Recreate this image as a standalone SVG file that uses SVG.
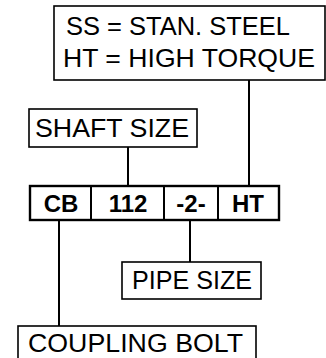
<svg xmlns="http://www.w3.org/2000/svg" width="326" height="358" viewBox="0 0 326 358">
<style>
.box{fill:#fff;stroke:#000;stroke-width:1.6}
.code{fill:#fff;stroke:#000;stroke-width:2.4}
.lbl{font-family:"Liberation Sans",Arial,sans-serif;font-size:25px;fill:#000}
.b{font-weight:bold;text-anchor:middle;font-size:24px}
.conn line{stroke:#000;stroke-width:2}
</style>
<rect width="326" height="358" fill="#fff"/>
<g class="conn" id="connectors">
<line x1="249" y1="80" x2="249" y2="186"/>
<line x1="128" y1="147" x2="128" y2="186"/>
<line x1="59" y1="220" x2="59" y2="326"/>
<line x1="190" y1="220" x2="190" y2="262"/>
</g>
<g id="legend">
<rect class="box" x="54" y="6" width="271" height="74"/>
<text class="lbl" x="66" y="35" textLength="224" lengthAdjust="spacingAndGlyphs">SS = STAN. STEEL</text>
<text class="lbl" x="63" y="67" textLength="252" lengthAdjust="spacingAndGlyphs">HT = HIGH TORQUE</text>
</g>
<g id="shaft-size">
<rect class="box" x="29" y="109" width="168" height="38"/>
<text class="lbl" x="35" y="137" textLength="154" lengthAdjust="spacingAndGlyphs">SHAFT SIZE</text>
</g>
<g id="code">
<rect class="code" x="30" y="186" width="249" height="34"/>
<line x1="91" y1="186" x2="91" y2="220" stroke="#000" stroke-width="2"/>
<line x1="164" y1="186" x2="164" y2="220" stroke="#000" stroke-width="2"/>
<line x1="218" y1="186" x2="218" y2="220" stroke="#000" stroke-width="2"/>
<text class="lbl b" x="61" y="212">CB</text>
<text class="lbl b" x="128" y="212">112</text>
<text class="lbl b" x="191" y="212">-2-</text>
<text class="lbl b" x="248" y="212">HT</text>
</g>
<g id="pipe-size">
<rect class="box" x="122" y="262" width="139" height="37"/>
<text class="lbl" x="132" y="289" textLength="120" lengthAdjust="spacingAndGlyphs">PIPE SIZE</text>
</g>
<g id="coupling-bolt">
<rect class="box" x="18" y="326" width="238" height="40"/>
<text class="lbl" x="28" y="352" textLength="215" lengthAdjust="spacingAndGlyphs">COUPLING BOLT</text>
</g>
</svg>
